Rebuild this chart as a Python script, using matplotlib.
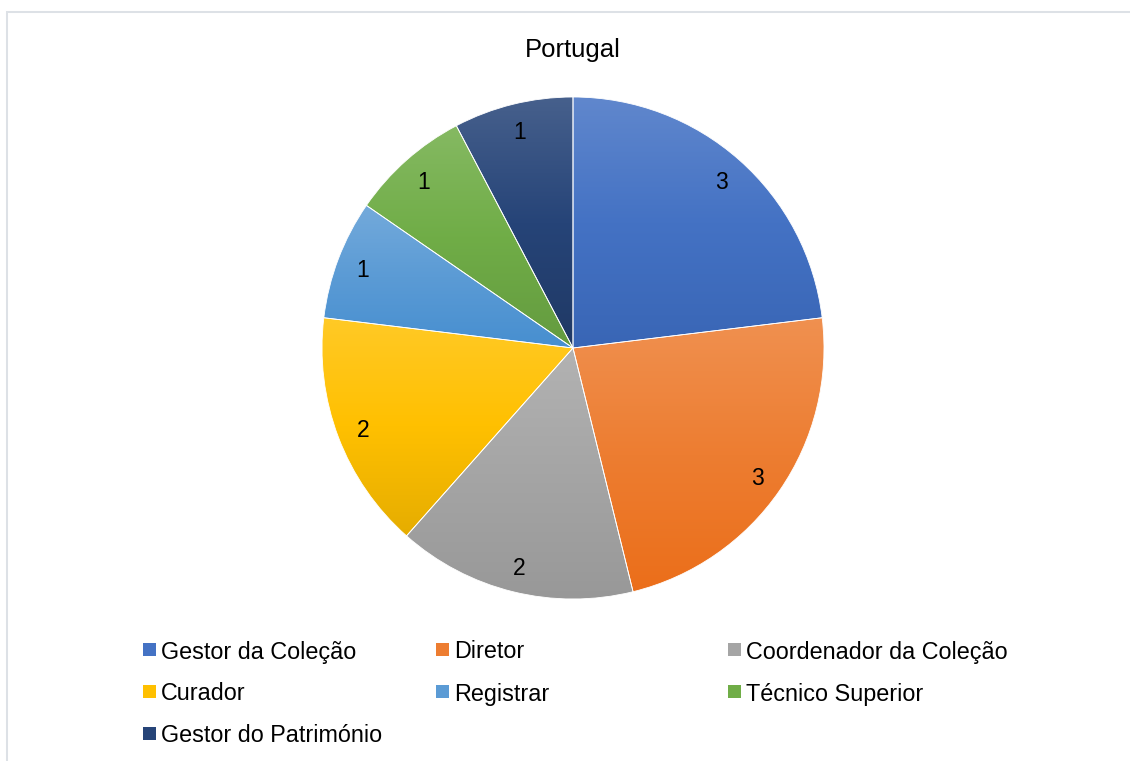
import colorsys

import matplotlib

matplotlib.use("Agg")

import matplotlib.pyplot as plt
import numpy as np
from matplotlib.colors import LinearSegmentedColormap, to_rgb
from matplotlib.patches import Rectangle

plt.rcParams["font.family"] = ["Liberation Sans", "DejaVu Sans"]

# data
title = "Portugal"
roles = [
    "Gestor da Coleção",
    "Diretor",
    "Coordenador da Coleção",
    "Curador",
    "Registrar",
    "Técnico Superior",
    "Gestor do Património",
]
counts = [3, 3, 2, 2, 1, 1, 1]
colors = ["#4472C4", "#ED7D31", "#A5A5A5", "#FFC000", "#5B9BD5", "#70AD47", "#264478"]

W, H = 1130, 761


def gradient_cmap(base: str) -> LinearSegmentedColormap:
    b = np.array(to_rgb(base))
    light = b + (1 - b) * 0.15
    h, l, s = colorsys.rgb_to_hls(*b)
    dark = colorsys.hls_to_rgb(h, max(l - 0.05, 0), s)
    return LinearSegmentedColormap.from_list("g", [light, b, dark])


fig = plt.figure(figsize=(W / 100, H / 100), dpi=100)

# chart border (Excel style)
fig.add_artist(Rectangle((7 / W, -0.1), 1.2, 1 - 12 / H + 0.1, transform=fig.transFigure,
                         fill=False, edgecolor="#dde1e6", linewidth=1.45))

cx, cy, r = 573, 348, 251
ax = fig.add_axes([(cx - r) / W, (H - cy - r) / H, 2 * r / W, 2 * r / H])

total = sum(counts)
wedges, _, autotexts = ax.pie(
    counts,
    colors=colors,
    startangle=90,
    counterclock=False,
    autopct=lambda p: f"{p * total / 100:.0f}",
    pctdistance=0.895,
    wedgeprops={"edgecolor": "white", "linewidth": 0.6},
    textprops={"fontsize": 16.5, "color": "black"},
)

grad = np.linspace(0, 1, 256).reshape(-1, 1)
for w, c in zip(wedges, colors):
    ext = w.get_path().get_extents()
    im = ax.imshow(grad, extent=(ext.x0, ext.x1, ext.y0, ext.y1), cmap=gradient_cmap(c),
                   origin="upper", aspect="auto", zorder=w.get_zorder() - 0.1, interpolation="bilinear")
    im.set_clip_path(w)
    w.set_facecolor("none")
for t in autotexts:
    t.set_zorder(5)
    t.set_va("center_baseline")

ax.set_xlim(-1, 1)
ax.set_ylim(-1, 1)
ax.set_aspect("equal")
ax.axis("off")

fig.text(cx / W, 1 - 48 / H, title, ha="center", va="center_baseline", fontsize=18.5, color="black")

# legend laid out in three fixed columns, row by row
col_x = [143, 436, 728]
row_base = [657.5, 699.5, 741.5]
sq = 12.7
legend_texts = []
for i, (label, c) in enumerate(zip(roles, colors)):
    row, col = divmod(i, 3)
    x = col_x[col]
    yb = row_base[row]
    fig.add_artist(Rectangle((x / W, (H - yb + 1.5) / H), sq / W, sq / H,
                             transform=fig.transFigure, facecolor=c, edgecolor="none"))
    t = fig.text((x + sq + 5.5) / W, (H - yb) / H, label, ha="left", va="baseline",
                 fontsize=16.8, color="black")
    legend_texts.append((t, yb))

# agg places labels without descenders a little low: measure where the first
# capital letter actually lands and move each label onto its row baseline
fig.canvas.draw()
img = np.asarray(fig.canvas.buffer_rgba())[:, :, :3].min(axis=2)
renderer = fig.canvas.get_renderer()
for t, yb in legend_texts:
    bb = t.get_window_extent(renderer)
    x0 = int(bb.x0)
    r0 = max(int(H - bb.y1) - 4, 0)
    r1 = min(int(H - bb.y0) + 4, H)
    ink = np.where((img[r0:r1, x0:x0 + 10] < 110).any(axis=1))[0]
    if len(ink):
        bottom = r0 + ink[-1]
        shift = bottom - (yb - 0.5)
        x, y = t.get_position()
        t.set_position((x, y + shift / H))

fig.savefig("out.png", dpi=100)
